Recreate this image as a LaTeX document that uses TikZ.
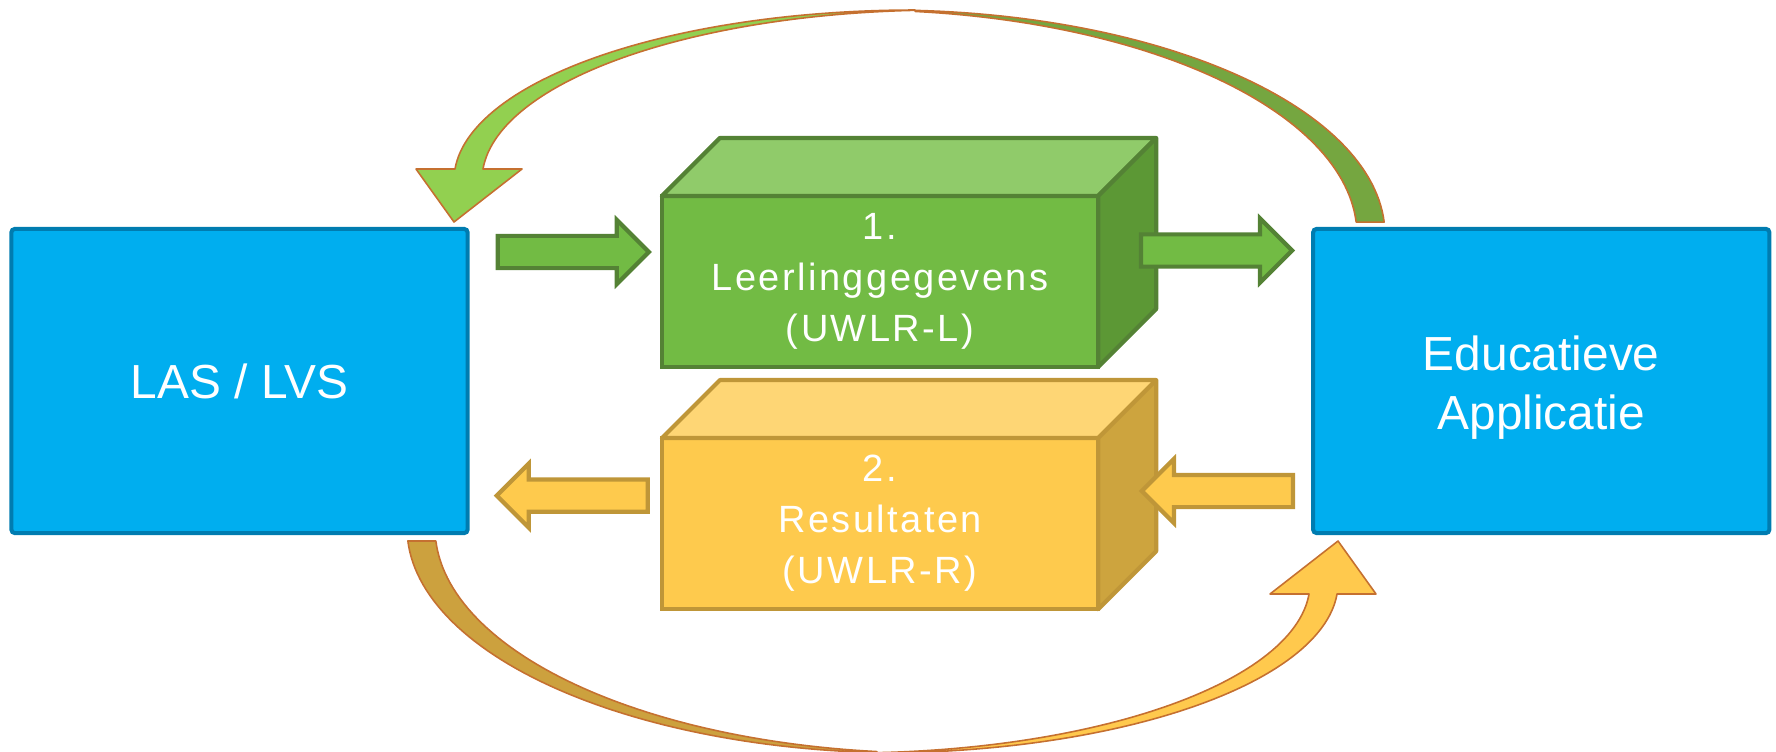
\documentclass[tikz,border=0pt]{standalone}
\usepackage{fontspec}
\setmainfont{Liberation Sans}
\usetikzlibrary{calc}
\usetikzlibrary{positioning}
\usetikzlibrary{shapes.arrows}
\definecolor{lasblue}{RGB}{0,174,239}
\definecolor{lasedge}{RGB}{0,124,176}
\definecolor{grfront}{RGB}{114,187,68}
\definecolor{grtop}{RGB}{144,203,106}
\definecolor{grside}{RGB}{92,152,53}
\definecolor{gredge}{RGB}{84,130,53}
\definecolor{ylfront}{RGB}{254,202,77}
\definecolor{yltop}{RGB}{254,214,117}
\definecolor{ylside}{RGB}{205,164,62}
\definecolor{yledge}{RGB}{191,150,56}
\definecolor{bandgreen}{RGB}{146,208,80}
\definecolor{bandgreendk}{RGB}{117,166,64}
\definecolor{bandyellow}{RGB}{255,201,77}
\definecolor{bandyellowdk}{RGB}{204,161,62}
\definecolor{bandedge}{RGB}{197,112,48}

% curved arrow: light half with the head, dark half with the stem
\newcommand{\bandarrow}[2]{%
  \filldraw[fill=#1, draw=bandedge, line width=0.45pt, line join=round]
    (416,169) -- (454,222) -- (522,169)
    -- plot[domain=176.3:93.5] ({943+461*cos(\x)},{180-170*sin(\x)})
    -- plot[domain=90:176.3] ({915+461*cos(\x)},{180-170*sin(\x)}) -- cycle;
  \filldraw[fill=#2, draw=bandedge, line width=0.45pt, line join=round]
    plot[domain=3.3:86.8] ({887+498*cos(\x)},{235-225*sin(\x)})
    -- plot[domain=83.5:3.3] ({859+498*cos(\x)},{235-225*sin(\x)}) -- cycle;
}

% top and side face of a box, #1 is the front node
\newcommand{\cubefaces}[4]{%
  \filldraw[draw=#2, fill=#3, line width=1.2pt, line join=round]
    (#1.north west) -- ++(58,-58) -- ($(#1.north east)+(58,-58)$) -- (#1.north east) -- cycle;
  \filldraw[draw=#2, fill=#4, line width=1.2pt, line join=round]
    (#1.north east) -- ++(58,-58) -- ($(#1.south east)+(58,-58)$) -- (#1.south east) -- cycle;
}

\begin{document}
\begin{tikzpicture}[x=0.01cm, y=-0.01cm, samples=60,
  sysbox/.style={draw=lasedge, fill=lasblue, line width=1.15pt, rounded corners=1pt,
    outer sep=0pt, minimum width=4.56cm, minimum height=3.04cm,
    text=white, align=center, font=\fontsize{13.6}{16.8}\selectfont},
  cubefront/.style={line width=1.2pt, outer sep=0pt, inner sep=0pt,
    minimum width=4.36cm, minimum height=1.71cm, text=white, align=center,
    font=\fontsize{10.8}{14.5}\selectfont\addfontfeature{LetterSpace=6.5}},
  flatarrow/.style={single arrow, line width=1.2pt, minimum height=1.51cm,
    inner xsep=0pt, inner ysep=0.14cm, single arrow head extend=0.16cm,
    single arrow tip angle=90}]
  \useasboundingbox (0,0) rectangle (1776,751);

  \node[sysbox] (las) at (239.5,381) {LAS / LVS};
  \node[sysbox, right=8.45cm of las] (app) {\rule{0pt}{13.7pt}Educatieve\\Applicatie};

  % the two message boxes
  \node[cubefront, draw=gredge, fill=grfront] (cubeL) at (880,281.5)
    {1.\\Leerlinggegevens\\(UWLR-L)};
  \node[cubefront, draw=yledge, fill=ylfront, below=0.71cm of cubeL] (cubeR)
    {2.\\Resultaten\\(UWLR-R)};
  \cubefaces{cubeL}{gredge}{grtop}{grside}
  \cubefaces{cubeR}{yledge}{yltop}{ylside}

  \node[flatarrow, draw=gredge, fill=grfront, anchor=tip] (arrowin)
    at ($(cubeL.west)+(-10,-29.5)$) {};
  \node[flatarrow, draw=gredge, fill=grfront, anchor=tip] (arrowout)
    at ($(app.west)+(-18,-130.5)$) {};
  \node[flatarrow, draw=yledge, fill=ylfront, shape border rotate=180, anchor=tail] (arrowback)
    at ($(cubeR.west)+(-12,-28)$) {};
  \node[flatarrow, draw=yledge, fill=ylfront, shape border rotate=180, anchor=tail] (arrowres)
    at ($(app.west)+(-18,110)$) {};

  % round trip arrows
  \bandarrow{bandgreen}{bandgreendk}
  \begin{scope}[rotate around={180:(896,381.5)}]
    \bandarrow{bandyellow}{bandyellowdk}
  \end{scope}
\end{tikzpicture}
\end{document}
